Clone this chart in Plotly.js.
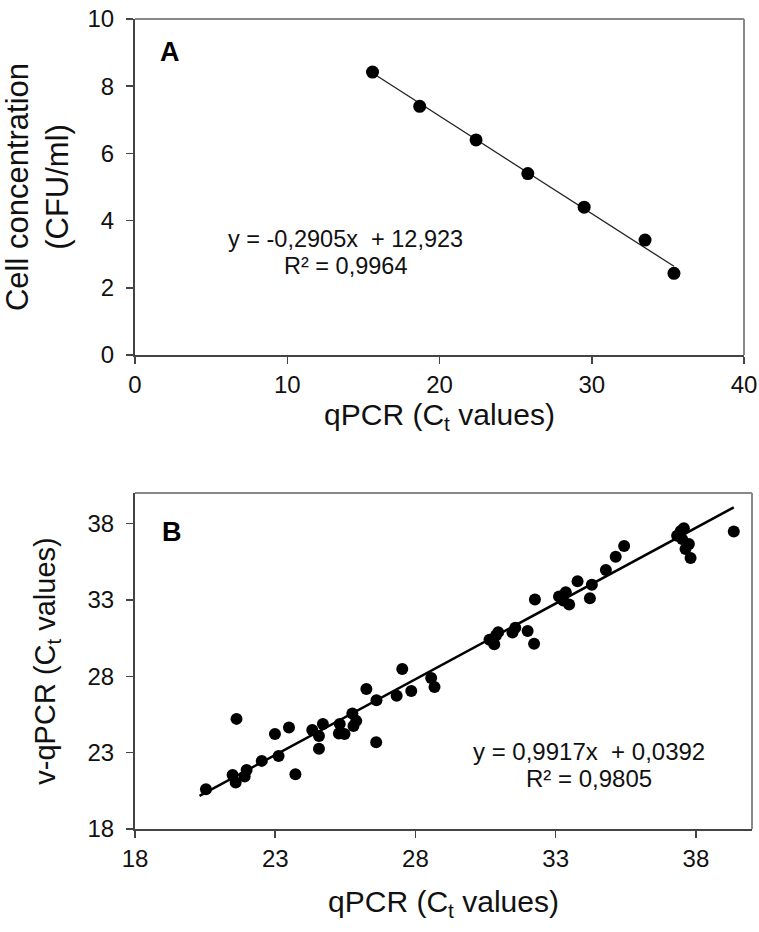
<!DOCTYPE html>
<html>
<head>
<meta charset="utf-8">
<script src="https://cdn.plot.ly/plotly-3.0.1.min.js"></script>
<style>html,body{margin:0;padding:0;background:#fff;}#chart{width:759px;height:932px;}</style>
</head>
<body>
<div id="chart"></div>
<script>
// Panel A: qPCR Ct vs cell concentration
const aCt = [15.6, 18.7, 22.4, 25.8, 29.5, 33.5, 35.4];
const aConc = [8.42, 7.4, 6.4, 5.4, 4.4, 3.42, 2.43];
const aSlope = -0.2905, aIntercept = 12.923;
const aEq = ["y = -0,2905x  + 12,923", "R² = 0,9964"];

// Panel B: qPCR Ct vs v-qPCR Ct
const bQ = [20.53, 21.48, 21.59, 21.91, 21.98, 21.62, 22.52, 23.12, 22.99, 23.49,
  23.72, 24.32, 24.56, 24.56, 24.70, 25.30, 25.27, 25.47, 25.75, 25.89,
  25.79, 26.25, 26.61, 26.60, 27.53, 27.33, 27.85, 28.56, 28.68, 30.64,
  30.81, 30.95, 30.87, 31.46, 31.56, 32.00, 32.23, 32.26, 33.12, 33.36,
  33.48, 33.27, 33.78, 34.29, 34.22, 34.79, 35.14, 35.44, 37.57, 37.33,
  37.51, 37.75, 37.63, 37.81, 37.46, 39.35];
const bV = [20.61, 21.54, 21.04, 21.43, 21.87, 25.21, 22.46, 22.78, 24.22, 24.65,
  21.59, 24.48, 24.09, 23.26, 24.87, 24.87, 24.26, 24.22, 25.57, 25.08,
  24.74, 27.17, 26.43, 23.68, 28.48, 26.72, 27.04, 27.89, 27.30, 30.39,
  30.09, 30.89, 30.67, 30.87, 31.18, 30.96, 30.13, 33.02, 33.22, 33.50,
  32.70, 32.96, 34.22, 34.00, 33.11, 34.96, 35.83, 36.53, 37.70, 37.20,
  36.98, 36.66, 36.33, 35.74, 37.52, 37.48];
const bSlope = 0.9917, bIntercept = 0.0392;
const bEq = ["y = 0,9917x  + 0,0392", "R² = 0,9805"];

const aTicksX = [0, 10, 20, 30, 40];
const aTicksY = [0, 2, 4, 6, 8, 10];
const bTicks = [18, 23, 28, 33, 38];

const aLineX = [Math.min(...aCt), Math.max(...aCt)];
const aLineY = aLineX.map(x => aSlope * x + aIntercept);
const bLineX = [20.3, Math.max(...bQ)];
const bLineY = bLineX.map(x => bSlope * x + bIntercept);

const FONT = "Liberation Sans, Arial, sans-serif";

const traces = [
  {x: aLineX, y: aLineY, mode: 'lines', line: {color: '#222', width: 1.3}, xaxis: 'x', yaxis: 'y', hoverinfo: 'skip'},
  {x: aCt, y: aConc, mode: 'markers', marker: {color: '#000', size: 13}, xaxis: 'x', yaxis: 'y'},
  {x: bLineX, y: bLineY, mode: 'lines', line: {color: '#000', width: 2.5}, xaxis: 'x2', yaxis: 'y2', hoverinfo: 'skip'},
  {x: bQ, y: bV, mode: 'markers', marker: {color: '#000', size: 12}, xaxis: 'x2', yaxis: 'y2'}
];

const axBase = {
  showgrid: false, zeroline: false, showline: true, linecolor: '#444', linewidth: 2,
  ticks: 'outside', ticklen: 7, tickwidth: 1.5, tickcolor: '#444',
  tickfont: {family: FONT, size: 24, color: '#111'}, automargin: false
};

const layout = {
  width: 759, height: 932, showlegend: false,
  paper_bgcolor: '#fff', plot_bgcolor: '#fff',
  margin: {l: 0, r: 0, t: 0, b: 0},
  xaxis: Object.assign({}, axBase, {domain: [135/759, 744/759], anchor: 'y', range: [0, 40], tickvals: aTicksX,
    title: {text: 'qPCR (C<sub>t</sub> values)', font: {family: FONT, size: 30, color: '#111'}, standoff: 2}}),
  yaxis: Object.assign({}, axBase, {domain: [1 - 355/932, 1 - 19/932], anchor: 'x', range: [0, 10], tickvals: aTicksY,
    ticklabelstandoff: 7,
    title: {text: 'Cell concentration<br>(CFU/ml)', font: {family: FONT, size: 31, color: '#111'}, standoff: 15}}),
  xaxis2: Object.assign({}, axBase, {domain: [135/759, 752/759], anchor: 'y2', range: [18, 40], tickvals: bTicks,
    title: {text: 'qPCR (C<sub>t</sub> values)', font: {family: FONT, size: 30, color: '#111'}, standoff: 20}}),
  yaxis2: Object.assign({}, axBase, {domain: [1 - 829/932, 1 - 493/932], anchor: 'x2', range: [18, 40], tickvals: bTicks,
    ticklabelstandoff: 7,
    title: {text: 'v-qPCR (C<sub>t</sub> values)', font: {family: FONT, size: 29, color: '#111'}, standoff: 23}}),
  shapes: [
    {type: 'line', xref: 'x domain', yref: 'y domain', x0: 0, x1: 1, y0: 1, y1: 1, line: {color: '#888', width: 2}},
    {type: 'line', xref: 'x domain', yref: 'y domain', x0: 1, x1: 1, y0: 0, y1: 1, line: {color: '#888', width: 2}},
    {type: 'line', xref: 'x2 domain', yref: 'y2 domain', x0: 0, x1: 1, y0: 1, y1: 1, line: {color: '#888', width: 2}},
    {type: 'line', xref: 'x2 domain', yref: 'y2 domain', x0: 1, x1: 1, y0: 0, y1: 1, line: {color: '#888', width: 2}}
  ],
  annotations: [
    {xref: 'x', yref: 'y', x: 2.3, y: 9.02, text: '<b>A</b>', showarrow: false, font: {family: FONT, size: 27, color: '#000'}},
    {xref: 'x2', yref: 'y2', x: 19.32, y: 37.43, text: '<b>B</b>', showarrow: false, font: {family: FONT, size: 27, color: '#000'}},
    {xref: 'x', yref: 'y', x: 13.85, y: 3.45, text: aEq[0], showarrow: false, font: {family: FONT, size: 23.5, color: '#111'}},
    {xref: 'x', yref: 'y', x: 13.85, y: 2.64, text: aEq[1], showarrow: false, font: {family: FONT, size: 23.5, color: '#111'}},
    {xref: 'x2', yref: 'y2', x: 34.19, y: 23.06, text: bEq[0], showarrow: false, font: {family: FONT, size: 24, color: '#111'}},
    {xref: 'x2', yref: 'y2', x: 34.19, y: 21.28, text: bEq[1], showarrow: false, font: {family: FONT, size: 24, color: '#111'}}
  ]
};

Plotly.newPlot('chart', traces, layout, {displayModeBar: false, staticPlot: true});
</script>
</body>
</html>
